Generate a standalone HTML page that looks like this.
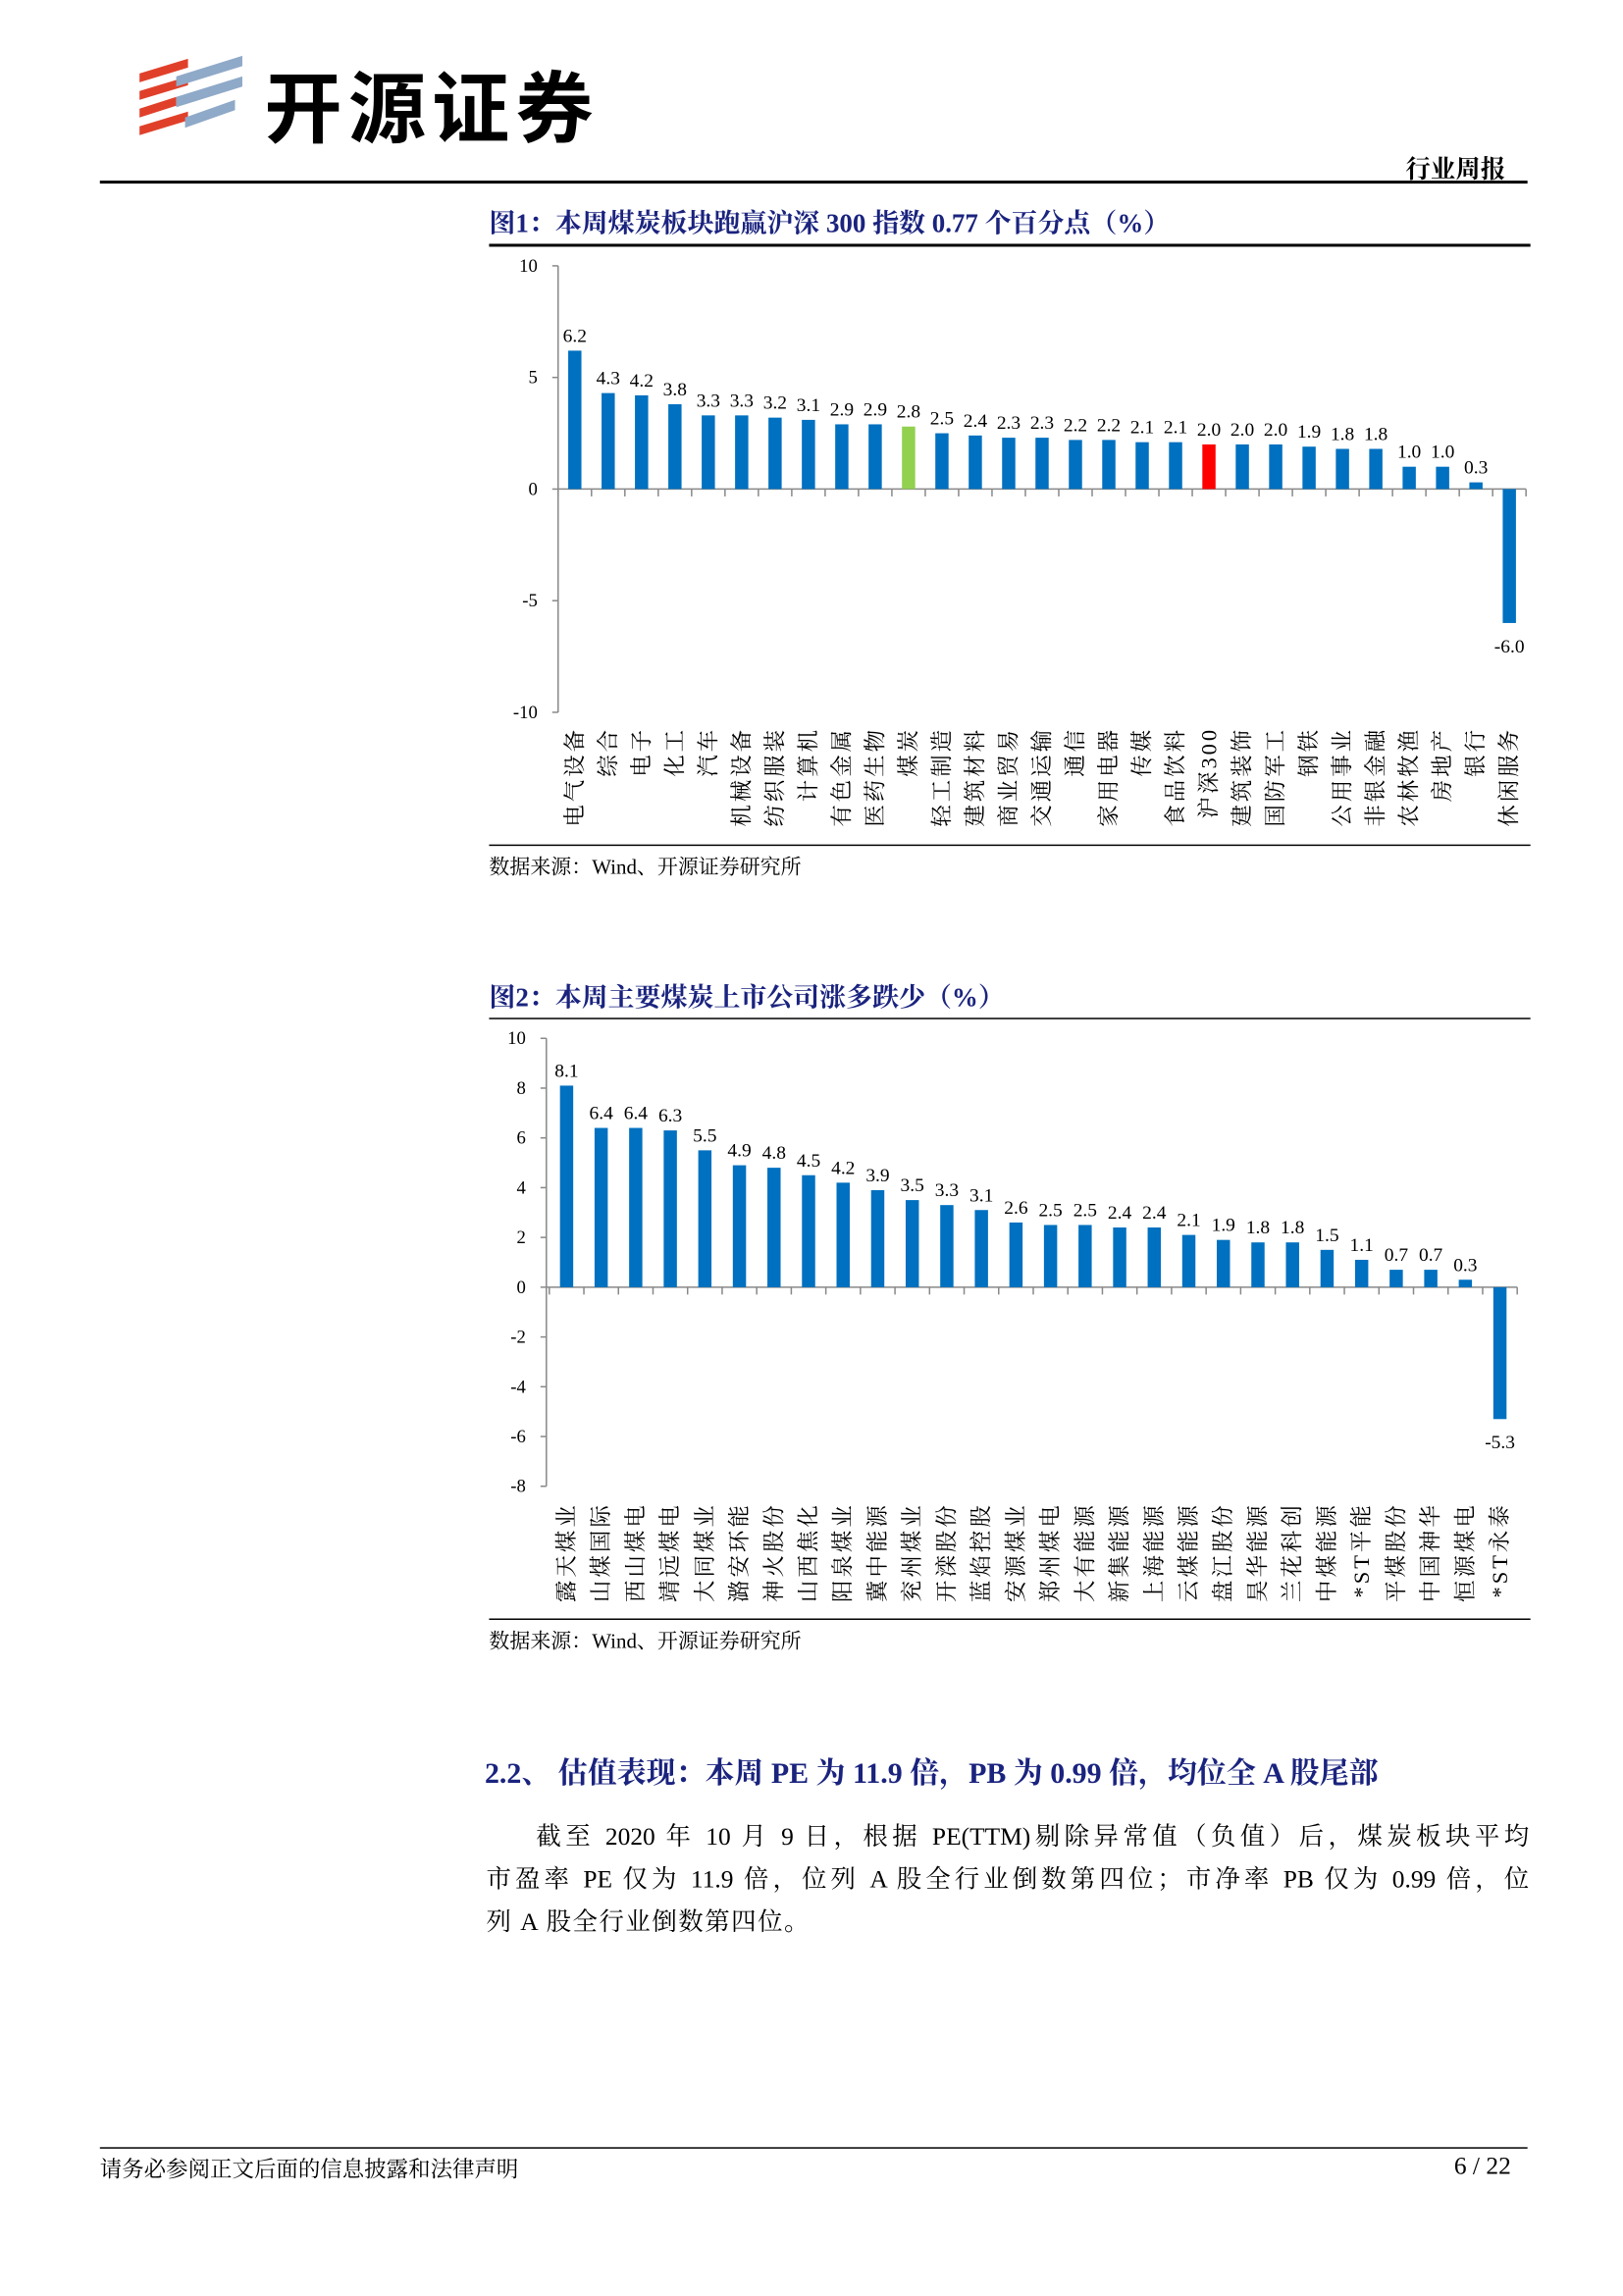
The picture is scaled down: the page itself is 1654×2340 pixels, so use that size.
<!DOCTYPE html>
<html><head><meta charset="utf-8">
<style>
html,body{margin:0;padding:0;background:#fff;}
body{width:1654px;height:2339px;overflow:hidden;position:relative;}
#wrap{position:absolute;left:0;top:0;width:1105px;height:1563px;transform:scale(1.4968);transform-origin:0 0;font-family:"Liberation Serif","Noto Serif CJK SC",serif;color:#000;}
.abs{position:absolute;white-space:nowrap;}
.ttl{color:#1a237e;font-weight:bold;font-size:18px;}
.src{font-size:14px;}
.pl{position:absolute;left:331px;width:710px;font-size:17px;text-align:justify;text-align-last:justify;white-space:nowrap;}
</style></head><body>
<div id="wrap">
  <svg class="abs" style="left:90px;top:32px" width="80" height="70">
    <polygon points="5,18 38,8 38,14 5,24" fill="#e0402a"/>
    <polygon points="5,30 38,20 38,26 5,36" fill="#e0402a"/>
    <polygon points="5,42 30,34 30,40 5,48" fill="#e0402a"/>
    <polygon points="5,54 38,44 38,50 5,60" fill="#e0402a"/>
    <polygon points="30,20 75,6 75,13 30,27" fill="#8fa9c8"/>
    <polygon points="30,34 75,20 75,27 30,41" fill="#8fa9c8"/>
    <polygon points="36,48 70,36 70,43 36,55" fill="#8fa9c8"/>
  </svg>
  <div class="abs" style="left:180px;top:33px;font-size:53px;font-weight:bold;font-family:'Liberation Sans','Noto Sans CJK SC',sans-serif;letter-spacing:4px">开源证券</div>
  <div class="abs" style="left:957px;top:101px;font-size:17px;font-weight:bold">行业周报</div>
  <div class="abs" style="left:68px;top:123px;width:972px;height:1.5px;background:#000"></div>

  <div class="abs ttl" style="left:333px;top:138px">图1：本周煤炭板块跑赢沪深 300 指数 0.77 个百分点（%）</div>
  <div class="abs" style="left:333px;top:166px;width:709px;height:1.5px;background:#000"></div>
  <svg id="c1" class="abs" style="left:0;top:0" width="1105" height="600"></svg>
  <div class="abs" style="left:333px;top:575px;width:709px;height:1px;background:#000"></div>
  <div class="abs src" style="left:333px;top:580px">数据来源：Wind、开源证券研究所</div>

  <div class="abs ttl" style="left:333px;top:665px">图2：本周主要煤炭上市公司涨多跌少（%）</div>
  <div class="abs" style="left:333px;top:693px;width:709px;height:1px;background:#000"></div>
  <svg id="c2" class="abs" style="left:0;top:0" width="1105" height="1110"></svg>
  <div class="abs" style="left:333px;top:1102px;width:709px;height:1px;background:#000"></div>
  <div class="abs src" style="left:333px;top:1107px">数据来源：Wind、开源证券研究所</div>

  <div class="abs" style="left:330px;top:1191px;font-size:20px;font-weight:bold;color:#1a237e">2.2、 估值表现：本周 PE 为 11.9 倍，PB 为 0.99 倍，均位全 A 股尾部</div>
  <div>
    <div class="pl" style="top:1236px;left:365px;width:676px">截至 2020 年 10 月 9 日，根据 PE(TTM)剔除异常值（负值）后，煤炭板块平均</div>
    <div class="pl" style="top:1265px">市盈率 PE 仅为 11.9 倍，位列 A 股全行业倒数第四位；市净率 PB 仅为 0.99 倍，位</div>
    <div class="pl" style="top:1294px;text-align:left;text-align-last:left;letter-spacing:1px">列 A 股全行业倒数第四位。</div>
  </div>

  <div class="abs" style="left:68px;top:1462px;width:972px;height:1px;background:#000"></div>
  <div class="abs" style="left:68px;top:1466px;font-size:15px">请务必参阅正文后面的信息披露和法律声明</div>
  <div class="abs" style="left:990px;top:1465px;font-size:17px">6 / 22</div>
</div>
<script>
const cats1 = ["电气设备","综合","电子","化工","汽车","机械设备","纺织服装","计算机","有色金属","医药生物","煤炭","轻工制造","建筑材料","商业贸易","交通运输","通信","家用电器","传媒","食品饮料","沪深300","建筑装饰","国防军工","钢铁","公用事业","非银金融","农林牧渔","房地产","银行","休闲服务"];
const vals1 = [6.2,4.3,4.2,3.8,3.3,3.3,3.2,3.1,2.9,2.9,2.8,2.5,2.4,2.3,2.3,2.2,2.2,2.1,2.1,2.0,2.0,2.0,1.9,1.8,1.8,1.0,1.0,0.3,-6.0];
const ticks1 = [10,5,0,-5,-10];
const cats2 = ["露天煤业","山煤国际","西山煤电","靖远煤电","大同煤业","潞安环能","神火股份","山西焦化","阳泉煤业","冀中能源","兖州煤业","开滦股份","蓝焰控股","安源煤业","郑州煤电","大有能源","新集能源","上海能源","云煤能源","盘江股份","昊华能源","兰花科创","中煤能源","*ST平能","平煤股份","中国神华","恒源煤电","*ST永泰"];
const vals2 = [8.1,6.4,6.4,6.3,5.5,4.9,4.8,4.5,4.2,3.9,3.5,3.3,3.1,2.6,2.5,2.5,2.4,2.4,2.1,1.9,1.8,1.8,1.5,1.1,0.7,0.7,0.3,-5.3];
const ticks2 = [10,8,6,4,2,0,-2,-4,-6,-8];

const NS="http://www.w3.org/2000/svg";
function mk(svg,tag,attrs,text){const e=document.createElementNS(NS,tag);for(const k in attrs)e.setAttribute(k,attrs[k]);if(text!==undefined)e.textContent=text;svg.appendChild(e);return e;}

function draw(svg,cats,vals,ticks,o){
  const y=v=>o.y0-(v-o.vmin)/(o.vmax-o.vmin)*(o.y0-o.y1);
  const step=(o.xr-o.xl)/cats.length;
  const x=i=>o.xl+step*(i+0.5);
  let e=mk(svg,"line",{x1:o.ax,x2:o.ax,y1:y(o.vmax),y2:y(o.vmin),stroke:"#888","stroke-width":1});
  
  
  ticks.forEach(t=>{
    let tl=mk(svg,"line",{x1:o.ax-4,x2:o.ax,y1:y(t),y2:y(t),stroke:"#888"});
    
    
    let tx=mk(svg,"text",{x:o.ax-14,y:y(t)+4,"text-anchor":"end","font-size":12.5,"font-family":"Liberation Serif, serif"},String(t));
    
    
  });
  let zl=mk(svg,"line",{x1:o.ax,x2:o.xr,y1:y(0),y2:y(0),stroke:"#888","stroke-width":1});
  
  
  for(let i=0;i<=cats.length;i++){
    let xt=mk(svg,"line",{x1:o.xl+step*i,x2:o.xl+step*i,y1:y(0),y2:y(0)+5,stroke:"#888"});
    
    
  }
  vals.forEach((v,i)=>{
    const col=o.colors&&o.colors[cats[i]]||"#0070c0";
    const top=Math.min(y(v),y(0)),h=Math.abs(y(v)-y(0));
    let b=mk(svg,"rect",{x:x(i)-o.bw/2,y:top,width:o.bw,height:h,fill:col});
    
    
    const ly=v>=0?y(v)-6:y(v)+20;
    let l=mk(svg,"text",{x:x(i),y:ly,"text-anchor":"middle","font-size":13,"font-family":"Liberation Serif, serif"},v.toFixed(1));
    
    
    let c=mk(svg,"text",{x:0,y:0,"text-anchor":"end","font-size":15,"letter-spacing":"2","font-family":"Liberation Serif, Noto Serif CJK SC, serif",transform:`translate(${x(i)+5},${o.ly}) rotate(-90)`},cats[i]);
    
    
  });
}
draw(document.getElementById('c1'),cats1,vals1,ticks1,{y0:485,y1:181,vmin:-10,vmax:10,ax:380,xl:380,xr:1039,bw:9,ly:495,colors:{"煤炭":"#92d050","沪深300":"#ff0000"}});
draw(document.getElementById('c2'),cats2,vals2,ticks2,{y0:1012,y1:707,vmin:-8,vmax:10,ax:372,xl:374,xr:1033,bw:9,ly:1023});
</script>
</body></html>
